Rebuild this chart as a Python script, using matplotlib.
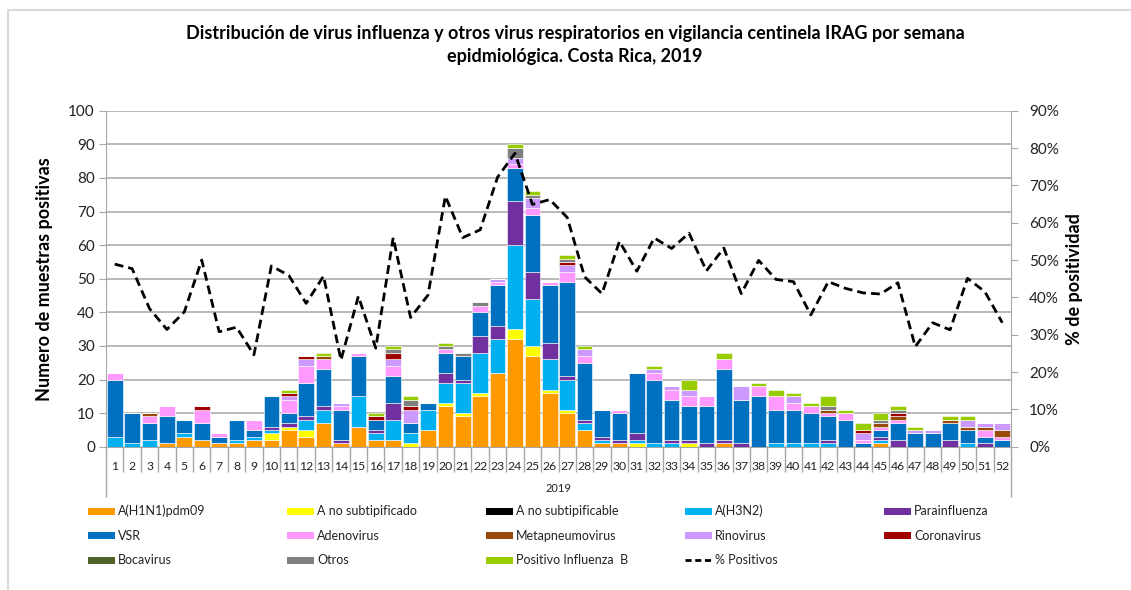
import numpy as np
import matplotlib.pyplot as plt
from matplotlib.patches import Rectangle
from matplotlib.lines import Line2D
import matplotlib.transforms as mtransforms

plt.rcParams['font.family'] = ['Lato', 'DejaVu Sans']

weeks = [str(i) for i in range(1, 53)]

# muestras positivas por semana
h1n1 = [0,0,0,1,3,2,1,1,2,2,5,3,7,1,6,2,2,0,5,12,9,15,22,32,27,16,10,5,1,1,
        0,0,0,0,0,1,0,0,0,0,0,0,0,0,1,0,0,0,0,0,0,0]
a_nosub = [0,0,0,0,0,0,0,0,0,2,1,2,0,0,0,0,0,1,0,1,1,1,0,3,3,1,1,0,0,0,
           1,0,0,1,0,0,0,0,0,0,0,0,0,0,0,0,0,0,0,0,0,0]
a_nosubable = [0]*52
h3n2 = [3,1,2,0,1,0,0,1,1,1,0,3,4,0,9,2,6,3,6,6,9,12,10,25,14,9,9,2,1,0,
        1,1,1,0,0,0,0,0,1,1,1,1,0,0,1,0,0,0,0,1,0,0]
para = [0,0,0,0,0,0,0,0,0,1,1,1,1,1,0,1,5,0,0,3,1,5,4,13,8,5,1,1,1,1,
        2,0,1,1,1,1,1,0,0,0,0,1,0,0,1,2,0,0,2,0,1,0]
vsr = [17,9,5,8,4,5,2,6,2,9,3,10,11,9,12,3,8,3,2,6,7,7,12,10,17,17,28,17,8,8,
       18,19,12,10,11,21,13,15,10,10,9,7,8,1,2,5,4,4,5,4,2,2]
adeno = [2,0,2,3,0,4,1,0,3,0,4,5,3,1,1,0,3,0,0,1,0,2,1,1,2,1,3,2,0,1,
         0,2,3,3,3,3,0,3,4,2,2,1,2,1,1,1,0,0,0,0,2,1]
metap = [0,0,1,0,0,0,0,0,0,0,0,0,1,0,0,0,0,0,0,0,0,0,0,0,0,0,0,0,0,0,
         0,0,0,0,0,0,0,0,0,0,0,1,0,0,1,1,0,0,1,1,1,2]
rhino = [0,0,0,0,0,0,0,0,0,0,1,2,0,1,0,0,2,4,0,0,0,0,1,2,3,0,2,2,0,0,
         0,1,1,2,0,0,4,0,0,2,0,0,0,2,0,0,1,1,0,2,1,2]
corona = [0,0,0,0,0,1,0,0,0,0,1,1,0,0,0,1,2,1,0,0,0,0,0,0,0,0,1,0,0,0,
          0,0,0,0,0,0,0,0,0,0,0,0,0,1,0,1,0,0,0,0,0,0]
boca = [0]*52
otros = [0,0,0,0,0,0,0,0,0,0,0,0,0,0,0,0,1,2,0,1,1,1,0,3,1,0,1,0,0,0,
         0,0,0,0,0,0,0,0,0,0,0,1,0,0,1,1,0,0,0,0,0,0]
flu_b = [0,0,0,0,0,0,0,0,0,0,1,0,1,0,0,1,1,1,0,1,0,0,0,1,1,0,1,1,0,0,
         0,1,0,3,0,2,0,1,2,1,1,3,1,2,2,1,1,0,1,1,0,0]

pct_pos = [48.9,47.7,37.0,31.4,36.1,50.0,30.8,32.0,24.6,48.4,45.9,38.4,45.7,23.2,
           40.3,26.4,56.0,34.6,40.6,67.1,56.0,58.1,72.2,78.6,64.9,66.2,61.4,45.5,
           41.0,55.0,47.0,55.9,53.1,57.2,47.1,53.2,41.0,49.9,44.8,44.2,35.3,44.2,
           42.4,41.2,40.9,43.9,26.8,33.2,31.3,45.1,41.5,33.2]

series = [
    ('A(H1N1)pdm09', h1n1, '#FF9900'),
    ('A no subtipificado', a_nosub, '#FFFF00'),
    ('A no subtipificable', a_nosubable, '#000000'),
    ('A(H3N2)', h3n2, '#00B0F0'),
    ('Parainfluenza', para, '#7030A0'),
    ('VSR', vsr, '#0070C0'),
    ('Adenovirus', adeno, '#FF99FF'),
    ('Metapneumovirus', metap, '#994A0A'),
    ('Rinovirus', rhino, '#CC99FF'),
    ('Coronavirus', corona, '#A00000'),
    ('Bocavirus', boca, '#4F6228'),
    ('Otros', otros, '#808080'),
    ('Positivo Influenza  B', flu_b, '#99CC00'),
]

W, H = 1131, 590
fig = plt.figure(figsize=(W / 100, H / 100), dpi=100)
x0, x1, y0, y1 = 106, 1011, 110.7, 446.7
ax = fig.add_axes([x0 / W, 1 - y1 / H, (x1 - x0) / W, (y1 - y0) / H])

gridc = '#A6A6A6'
x = np.arange(52)
bottom = np.zeros(52)
for name, vals, col in series:
    v = np.array(vals, dtype=float)
    ax.bar(x, v, bottom=bottom, width=0.9, color=col, edgecolor='white',
           linewidth=0.4, zorder=3)
    bottom += v

ax.set_xlim(-0.5, 51.5)
ax.set_ylim(0, 100)
ax.set_yticks(range(0, 101, 10))
ax.yaxis.grid(True, color=gridc, linewidth=1.1, zorder=0)
ax.set_axisbelow(True)
ax.tick_params(axis='y', labelsize=11, length=5, color=gridc, pad=3,
               labelcolor='#222222')
ax.set_xticks(x)
ax.set_xticklabels(weeks, fontsize=8.8, color='#222222')
ax.tick_params(axis='x', length=0, pad=10)
for s in ['top', 'right']:
    ax.spines[s].set_visible(False)
for s in ['left', 'bottom']:
    ax.spines[s].set_color(gridc)
ax.spines['left'].set_bounds(0, 100)

# separadores del eje de categorias
trans = mtransforms.blended_transform_factory(ax.transData, ax.transAxes)
hpx = y1 - y0
ax.vlines(np.arange(1, 52) - 0.5, -25 / hpx, 0, transform=trans, colors=gridc,
          linewidth=1, clip_on=False)
ax.vlines([-0.5, 51.5], -50 / hpx, 0, transform=trans, colors=gridc,
          linewidth=1, clip_on=False)
ax.text(0.5, -42 / hpx, '2019', transform=ax.transAxes, ha='center',
        va='center', fontsize=8, color='#222222')

ax.set_ylabel('Numero de muestras positivas', fontsize=13, fontweight='bold',
              labelpad=11)

ax2 = ax.twinx()
ax2.plot(x, np.array(pct_pos) / 100, color='black', linewidth=2,
         linestyle=(0, (3.2, 1.8)), zorder=5)
ax2.set_ylim(0, 0.9)
ax2.set_yticks(np.arange(0, 0.91, 0.1))
ax2.set_yticklabels([f'{int(round(t * 100))}%' for t in np.arange(0, 0.91, 0.1)])
ax2.tick_params(axis='y', labelsize=11, length=5, color=gridc, pad=8,
                labelcolor='#222222')
for s in ['top', 'left', 'bottom']:
    ax2.spines[s].set_visible(False)
ax2.spines['right'].set_color(gridc)
ax2.spines['right'].set_bounds(0, 0.9)
ax2.set_ylabel('% de positividad', fontsize=13, fontweight='bold',
               labelpad=5)

fig.text(575 / W, 1 - 45 / H,
         'Distribución de virus influenza y otros virus respiratorios en vigilancia centinela IRAG por semana\n'
         'epidmiológica. Costa Rica, 2019',
         ha='center', va='center', fontsize=13, fontweight='bold',
         linespacing=1.45)

# leyenda en filas
entries = [(n, c) for n, _, c in series] + [('% Positivos', None)]
for i, (name, col) in enumerate(entries):
    r, c = divmod(i, 5)
    lx = 88 + c * 199
    ly = 511 + r * 24.7
    if col is not None:
        fig.patches.append(Rectangle((lx / W, 1 - (ly + 3.5) / H), 27 / W, 7 / H,
                                     transform=fig.transFigure, facecolor=col,
                                     edgecolor='none'))
    else:
        fig.lines.append(Line2D([lx / W, (lx + 27) / W], [1 - ly / H] * 2,
                                transform=fig.transFigure, color='black',
                                linewidth=2, linestyle=(0, (2.2, 1.3))))
    fig.text((lx + 30) / W, 1 - ly / H, name, ha='left', va='center',
             fontsize=9, color='#222222')

# borde del area del grafico
fig.lines.append(Line2D([8 / W, 8 / W, 1], [0, 1 - 10 / H, 1 - 10 / H],
                        transform=fig.transFigure, color='#D9D9D9', linewidth=1.5))

fig.savefig('out.png', dpi=100)
